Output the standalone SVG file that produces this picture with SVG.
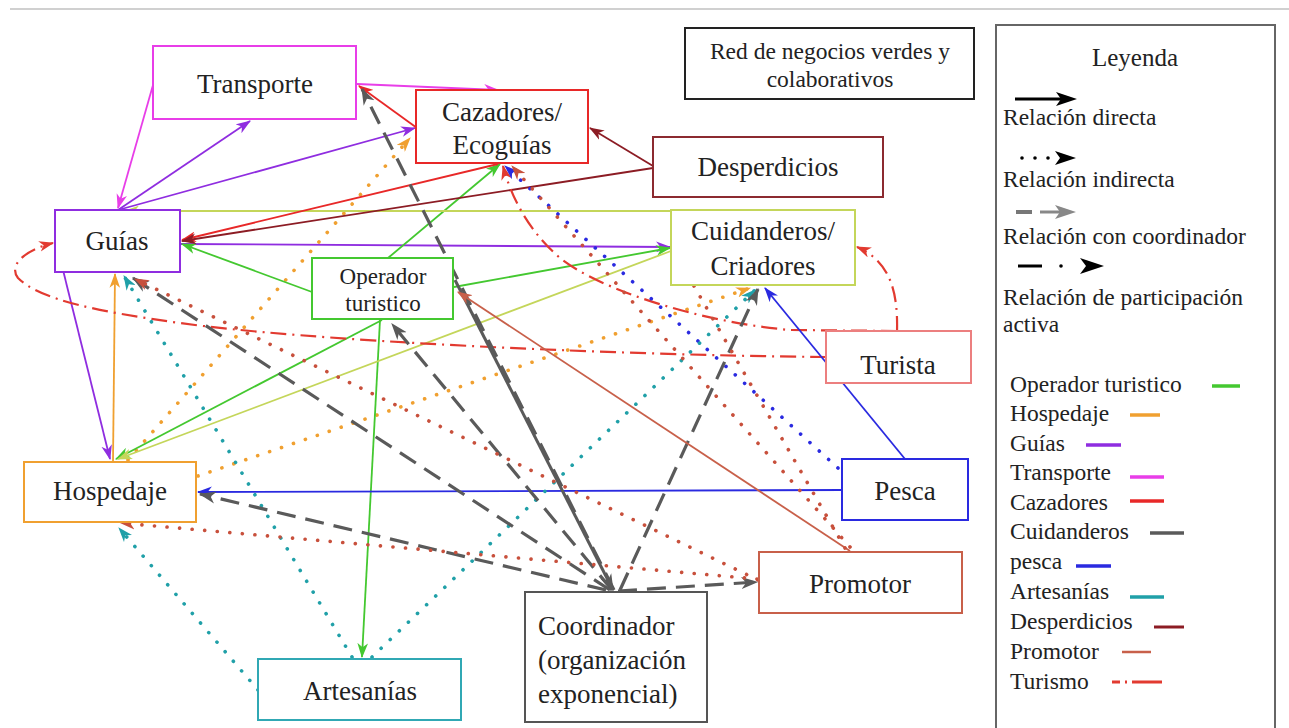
<svg xmlns="http://www.w3.org/2000/svg" width="1289" height="728" viewBox="0 0 1289 728" font-family="'Liberation Serif', 'Times New Roman', serif">
<style>
text{font-family:"Liberation Serif","Times New Roman",serif}
.box{fill:#fff;stroke-width:2}
.lbl{font-size:27px;fill:#222;text-anchor:middle}
.sm{font-size:23px}
.lg{font-size:23.5px;fill:#222}
.c{fill:none;stroke-width:1.8}
.dot{fill:none;stroke-width:3.6;stroke-linecap:round;stroke-dasharray:0.1 12.5}
.dash{fill:none;stroke:#5a5a5a;stroke-width:3.2;stroke-dasharray:19 10}
.dd{fill:none;stroke:#e23a30;stroke-width:2.2;stroke-dasharray:16 6 2 6}
</style>
<defs>
<marker id="a-mag" viewBox="0 0 14 10" refX="13" refY="5" markerWidth="15" markerHeight="11" markerUnits="userSpaceOnUse" orient="auto"><path d="M0,0 L14,5 L0,10 L4,5z" fill="#e83ee8"/></marker>
<marker id="a-pur" viewBox="0 0 14 10" refX="13" refY="5" markerWidth="15" markerHeight="11" markerUnits="userSpaceOnUse" orient="auto"><path d="M0,0 L14,5 L0,10 L4,5z" fill="#8f2de0"/></marker>
<marker id="a-grn" viewBox="0 0 14 10" refX="13" refY="5" markerWidth="15" markerHeight="11" markerUnits="userSpaceOnUse" orient="auto"><path d="M0,0 L14,5 L0,10 L4,5z" fill="#44c830"/></marker>
<marker id="a-yg" viewBox="0 0 14 10" refX="13" refY="5" markerWidth="15" markerHeight="11" markerUnits="userSpaceOnUse" orient="auto"><path d="M0,0 L14,5 L0,10 L4,5z" fill="#c4d65a"/></marker>
<marker id="a-red" viewBox="0 0 14 10" refX="13" refY="5" markerWidth="15" markerHeight="11" markerUnits="userSpaceOnUse" orient="auto"><path d="M0,0 L14,5 L0,10 L4,5z" fill="#e82828"/></marker>
<marker id="a-dr" viewBox="0 0 14 10" refX="13" refY="5" markerWidth="15" markerHeight="11" markerUnits="userSpaceOnUse" orient="auto"><path d="M0,0 L14,5 L0,10 L4,5z" fill="#8c1c24"/></marker>
<marker id="a-blu" viewBox="0 0 14 10" refX="13" refY="5" markerWidth="15" markerHeight="11" markerUnits="userSpaceOnUse" orient="auto"><path d="M0,0 L14,5 L0,10 L4,5z" fill="#2a2ae0"/></marker>
<marker id="a-sal" viewBox="0 0 14 10" refX="13" refY="5" markerWidth="15" markerHeight="11" markerUnits="userSpaceOnUse" orient="auto"><path d="M0,0 L14,5 L0,10 L4,5z" fill="#c8604a"/></marker>
<marker id="a-br" viewBox="0 0 14 10" refX="13" refY="5" markerWidth="15" markerHeight="11" markerUnits="userSpaceOnUse" orient="auto"><path d="M0,0 L14,5 L0,10 L4,5z" fill="#c8503c"/></marker>
<marker id="a-gry" viewBox="0 0 14 10" refX="13" refY="5" markerWidth="17" markerHeight="13" markerUnits="userSpaceOnUse" orient="auto"><path d="M0,0 L14,5 L0,10 L4,5z" fill="#5a5a5a"/></marker>
<marker id="a-org" viewBox="0 0 14 10" refX="13" refY="5" markerWidth="15" markerHeight="11" markerUnits="userSpaceOnUse" orient="auto"><path d="M0,0 L14,5 L0,10 L4,5z" fill="#f0a030"/></marker>
<marker id="a-tea" viewBox="0 0 14 10" refX="13" refY="5" markerWidth="15" markerHeight="11" markerUnits="userSpaceOnUse" orient="auto"><path d="M0,0 L14,5 L0,10 L4,5z" fill="#20a0a8"/></marker>
<marker id="a-dd" viewBox="0 0 14 10" refX="13" refY="5" markerWidth="15" markerHeight="11" markerUnits="userSpaceOnUse" orient="auto"><path d="M0,0 L14,5 L0,10 L4,5z" fill="#e23a30"/></marker>
</defs>
<rect width="1289" height="728" fill="#fff"/>
<line x1="10" y1="9" x2="1289" y2="9" stroke="#d0d0d0" stroke-width="2"/>

<g id="connectors">
<line class="c" x1="357" y1="84" x2="498" y2="90" stroke="#e83ee8" marker-end="url(#a-mag)"/>
<line class="c" x1="155" y1="78" x2="118" y2="208" stroke="#e83ee8" marker-end="url(#a-mag)"/>
<line class="c" x1="118" y1="210" x2="250" y2="121" stroke="#8f2de0" marker-end="url(#a-pur)"/>
<line class="c" x1="118" y1="210" x2="415" y2="128" stroke="#8f2de0" marker-end="url(#a-pur)"/>
<line class="c" x1="180" y1="244" x2="670" y2="247" stroke="#8f2de0" marker-end="url(#a-pur)"/>
<line class="c" x1="60" y1="258" x2="110" y2="459" stroke="#8f2de0" marker-end="url(#a-pur)"/>
<line class="c" x1="113" y1="461" x2="115" y2="274" stroke="#f0a030" marker-end="url(#a-org)"/>
<line class="dot" x1="128" y1="460" x2="410" y2="138" stroke="#f0a030" marker-end="url(#a-org)"/>
<line class="dot" x1="198" y1="476" x2="750" y2="288" stroke="#f0a030" marker-end="url(#a-org)"/>
<line class="c" x1="312" y1="292" x2="182" y2="244" stroke="#44c830" marker-end="url(#a-grn)"/>
<line class="c" x1="388" y1="258" x2="500" y2="164" stroke="#44c830" marker-end="url(#a-grn)"/>
<line class="c" x1="382" y1="320" x2="116" y2="459" stroke="#44c830" marker-end="url(#a-grn)"/>
<line class="c" x1="380" y1="320" x2="362" y2="657" stroke="#44c830" marker-end="url(#a-grn)"/>
<line class="c" x1="454" y1="287" x2="670" y2="248" stroke="#44c830" marker-end="url(#a-grn)"/>
<line class="c" x1="671" y1="211" x2="125" y2="211" stroke="#c4d65a" marker-end="url(#a-yg)"/>
<line class="c" x1="671" y1="251" x2="118" y2="459" stroke="#c4d65a" marker-end="url(#a-yg)"/>
<line class="c" x1="498" y1="164" x2="182" y2="240" stroke="#e82828" marker-end="url(#a-red)"/>
<line class="c" x1="417" y1="128" x2="359" y2="86" stroke="#e82828" marker-end="url(#a-red)"/>
<line class="c" x1="653" y1="166" x2="590" y2="128" stroke="#8c1c24" marker-end="url(#a-dr)"/>
<line class="c" x1="653" y1="168" x2="182" y2="241" stroke="#8c1c24" marker-end="url(#a-dr)"/>
<path class="dd" d="M826,357 C600,355 300,340 180,323 C100,312 40,300 18,278 C8,265 25,250 53,243" marker-end="url(#a-dd)"/>
<path class="dd" d="M897,332 C898,295 892,262 857,247" marker-end="url(#a-dd)"/>
<path class="dd" d="M897,331 L790,330 C700,322 600,290 560,258 C530,232 512,200 503,166" marker-end="url(#a-dd)"/>
<line class="c" x1="842" y1="490" x2="198" y2="492" stroke="#2a2ae0" marker-end="url(#a-blu)"/>
<line class="c" x1="905" y1="459" x2="765" y2="288" stroke="#2a2ae0" marker-end="url(#a-blu)"/>
<line class="dot" x1="838" y1="468" x2="505" y2="166" stroke="#2a2ae0" marker-end="url(#a-blu)"/>
<line class="dot" x1="258" y1="690" x2="119" y2="528" stroke="#20a0a8" marker-end="url(#a-tea)"/>
<line class="dot" x1="352" y1="657" x2="124" y2="276" stroke="#20a0a8" marker-end="url(#a-tea)"/>
<line class="dot" x1="372" y1="657" x2="755" y2="290" stroke="#20a0a8" marker-end="url(#a-tea)"/>
<line class="dash" x1="614" y1="590" x2="362" y2="89" marker-end="url(#a-gry)"/>
<line class="dash" x1="610" y1="590" x2="133" y2="278" marker-end="url(#a-gry)"/>
<line class="dash" x1="612" y1="590" x2="392" y2="324" marker-end="url(#a-gry)"/>
<line class="dash" x1="606" y1="590" x2="200" y2="494" marker-end="url(#a-gry)"/>
<line class="dash" x1="618" y1="591" x2="757" y2="582" marker-end="url(#a-gry)"/>
<line class="dash" x1="620" y1="590" x2="758" y2="289" marker-end="url(#a-gry)"/>
<line x1="455" y1="280" x2="613" y2="590" stroke="#5a5a5a" stroke-width="3" marker-end="url(#a-gry)"/>
<line class="c" x1="850" y1="551" x2="458" y2="292" stroke="#c8604a" marker-end="url(#a-sal)"/>
<line class="dot" x1="758" y1="580" x2="135" y2="279" stroke="#c8503c" marker-end="url(#a-br)"/>
<line class="dot" x1="757" y1="579" x2="121" y2="523" stroke="#c8503c" marker-end="url(#a-br)"/>
<line class="dot" x1="850" y1="547" x2="512" y2="166" stroke="#c8503c" marker-end="url(#a-br)"/>
<line class="dot" x1="845" y1="548" x2="679" y2="260" stroke="#c8503c" marker-end="url(#a-br)"/>
</g>

<g id="n-transporte"><rect class="box" x="153" y="46" width="203" height="73" stroke="#e83ee8"/><text class="lbl" x="255" y="93">Transporte</text></g>
<g id="n-cazadores"><rect class="box" x="416" y="90" width="172" height="73" stroke="#e82828"/><text class="lbl" x="502" y="121">Cazadores/</text><text class="lbl" x="502" y="154">Ecoguías</text></g>
<g id="n-desperdicios"><rect class="box" x="653" y="137" width="230" height="60" stroke="#8c2a30"/><text class="lbl" x="768" y="176">Desperdicios</text></g>
<g id="n-red"><rect class="box" x="685" y="28" width="289" height="71" stroke="#222"/><text class="lbl" style="font-size:23.5px" x="830" y="59">Red de negocios verdes y</text><text class="lbl" style="font-size:23.5px" x="830" y="87">colaborativos</text></g>
<g id="n-guias"><rect class="box" x="55" y="210" width="125" height="62" stroke="#8f2de0"/><text class="lbl" x="117" y="250">Guías</text></g>
<g id="n-cuidanderos"><rect class="box" x="671" y="210" width="184" height="75" stroke="#c4d65a"/><text class="lbl" x="763" y="240">Cuidanderos/</text><text class="lbl" x="763" y="275">Criadores</text></g>
<g id="n-operador"><rect class="box" x="312" y="258" width="141" height="61" stroke="#44c830"/><text class="lbl" style="font-size:23px" x="383" y="284">Operador</text><text class="lbl" style="font-size:23px" x="383" y="311">turistico</text></g>
<g id="n-turista"><rect class="box" x="826" y="331" width="145" height="52" stroke="#ec7f7f"/><text class="lbl" x="898" y="374">Turista</text></g>
<g id="n-hospedaje"><rect class="box" x="24" y="462" width="172" height="60" stroke="#f0a030"/><text class="lbl" x="110" y="500">Hospedaje</text></g>
<g id="n-pesca"><rect class="box" x="842" y="459" width="126" height="61" stroke="#2a2ae0"/><text class="lbl" x="905" y="500">Pesca</text></g>
<g id="n-promotor"><rect class="box" x="759" y="552" width="203" height="61" stroke="#c8604a"/><text class="lbl" x="860" y="593">Promotor</text></g>
<g id="n-coordinador"><rect class="box" x="525" y="592" width="182" height="130" stroke="#555"/><text class="lbl" style="text-anchor:start" x="538" y="635">Coordinador</text><text class="lbl" style="text-anchor:start" x="538" y="669">(organización</text><text class="lbl" style="text-anchor:start" x="538" y="703">exponencial)</text></g>
<g id="n-artesanias"><rect class="box" x="258" y="659" width="203" height="61" stroke="#30a8b4"/><text class="lbl" x="360" y="700">Artesanías</text></g>

<g id="legend">
<rect x="996" y="25" width="279" height="720" fill="#fff" stroke="#666" stroke-width="2"/>
<text class="lbl" style="font-size:25px" x="1135" y="66">Leyenda</text>
<line x1="1015" y1="99" x2="1062" y2="99" stroke="#000" stroke-width="3"/>
<path d="M1056,92 L1077,99 L1056,106 L1061,99z" fill="#000"/>
<text class="lg" x="1003" y="125">Relación directa</text>
<circle cx="1022" cy="158" r="1.8" fill="#000"/><circle cx="1035" cy="158" r="1.8" fill="#000"/><circle cx="1048" cy="158" r="1.8" fill="#000"/>
<path d="M1055,151 L1076,158 L1055,165 L1060,158z" fill="#000"/>
<text class="lg" x="1003" y="187">Relación indirecta</text>
<line x1="1016" y1="212" x2="1032" y2="212" stroke="#777" stroke-width="4"/>
<line x1="1040" y1="212" x2="1060" y2="212" stroke="#888" stroke-width="3"/>
<path d="M1055,205 L1076,212 L1055,219 L1060,212z" fill="#888"/>
<text class="lg" x="1003" y="244">Relación con coordinador</text>
<line x1="1018" y1="266" x2="1042" y2="266" stroke="#000" stroke-width="3"/>
<circle cx="1061" cy="266" r="1.8" fill="#000"/>
<path d="M1080,258 L1104,266 L1080,274 L1086,266z" fill="#000"/>
<text class="lg" x="1003" y="305">Relación de participación</text>
<text class="lg" x="1003" y="332">activa</text>
<text class="lg" x="1010" y="392">Operador turistico</text><line x1="1212" y1="386" x2="1240" y2="386" stroke="#44c830" stroke-width="3.5"/>
<text class="lg" x="1010" y="421">Hospedaje</text><line x1="1130" y1="415" x2="1160" y2="415" stroke="#f0a030" stroke-width="3.5"/>
<text class="lg" x="1010" y="451">Guías</text><line x1="1086" y1="445" x2="1121" y2="445" stroke="#8f2de0" stroke-width="3.5"/>
<text class="lg" x="1010" y="480">Transporte</text><line x1="1130" y1="477" x2="1164" y2="477" stroke="#e83ee8" stroke-width="3.5"/>
<text class="lg" x="1010" y="510">Cazadores</text><line x1="1130" y1="501" x2="1164" y2="501" stroke="#e82828" stroke-width="3.5"/>
<text class="lg" x="1010" y="539">Cuidanderos</text><line x1="1150" y1="533" x2="1184" y2="533" stroke="#5a5a5a" stroke-width="3.5"/>
<text class="lg" x="1010" y="569">pesca</text><line x1="1076" y1="566" x2="1111" y2="566" stroke="#2a2ae0" stroke-width="3.5"/>
<text class="lg" x="1010" y="599">Artesanías</text><line x1="1130" y1="597" x2="1164" y2="597" stroke="#20a0a8" stroke-width="3.5"/>
<text class="lg" x="1010" y="629">Desperdicios</text><line x1="1154" y1="627" x2="1184" y2="627" stroke="#8c1c24" stroke-width="3"/>
<text class="lg" x="1010" y="659">Promotor</text><line x1="1122" y1="652" x2="1151" y2="652" stroke="#c8604a" stroke-width="2.5"/>
<text class="lg" x="1010" y="689">Turismo</text><path d="M1112,682 h8 M1125,682 h2 M1132,682 h30" stroke="#e23a30" stroke-width="3"/>
</g>
</svg>
